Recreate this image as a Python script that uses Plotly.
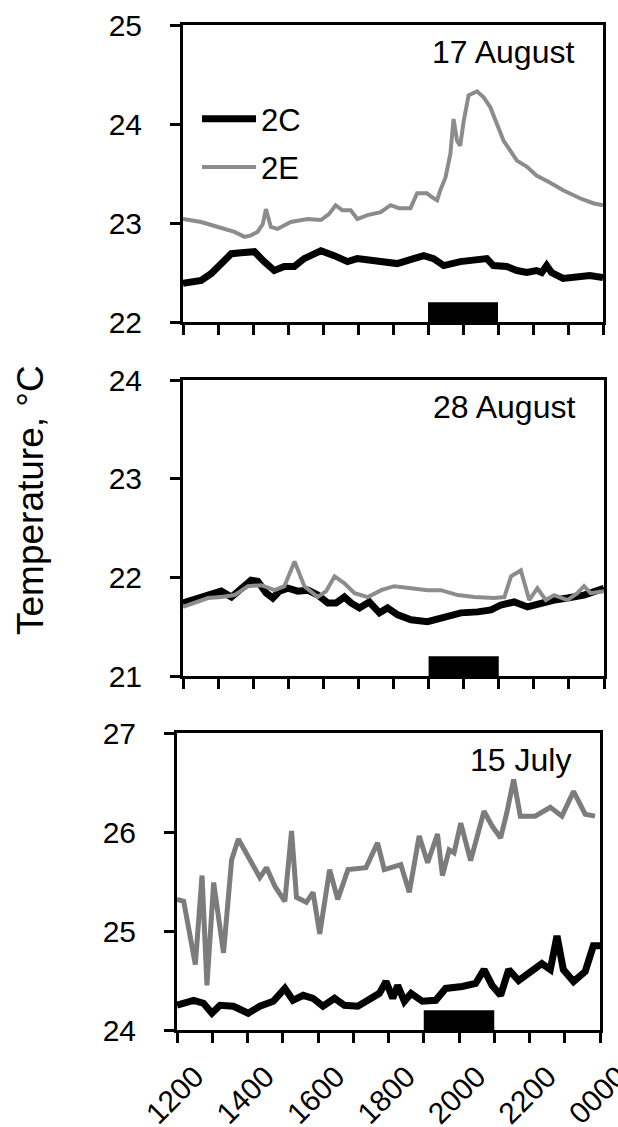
import plotly.graph_objects as go

# ---------------- data ----------------
# time in hours (12 = 1200, 24 = 0000)
tick_hours = list(range(12, 25))
tick_labels = ["1200", "", "1400", "", "1600", "", "1800", "", "2000", "", "2200", "", "0000"]

night_start = 19.0
night_end = 21.0
night_bar_height = 0.2

panel_dates = ["17 August", "28 August", "15 July"]
panel_ranges = [[22, 25], [21, 24], [24, 27]]
panel_ytick_values = [[22, 23, 24, 25], [21, 22, 23, 24], [24, 25, 26, 27]]

# 17 August
aug17_2C_time = [12.00, 12.52, 12.81, 13.09, 13.38, 13.66, 14.04, 14.32, 14.61, 14.89, 15.18, 15.46,
                 15.94, 16.32, 16.70, 16.98, 17.55, 18.12, 18.59, 18.88, 19.16, 19.45, 19.92, 20.40,
                 20.68, 20.87, 21.25, 21.54, 21.82, 22.10, 22.25, 22.39, 22.53, 22.86, 23.24, 23.62, 24.00]
aug17_2C_temp = [22.39, 22.42, 22.49, 22.59, 22.69, 22.70, 22.71, 22.61, 22.52, 22.56, 22.56, 22.64,
                 22.72, 22.67, 22.61, 22.64, 22.62, 22.59, 22.64, 22.67, 22.64, 22.57, 22.61, 22.64,
                 22.64, 22.57, 22.56, 22.52, 22.50, 22.52, 22.50, 22.57, 22.50, 22.44, 22.46, 22.47, 22.45]
aug17_2E_time = [12.00, 12.52, 13.00, 13.47, 13.76, 13.94, 14.13, 14.28, 14.37, 14.51, 14.70, 15.08,
                 15.56, 15.94, 16.17, 16.36, 16.55, 16.79, 16.98, 17.27, 17.65, 17.93, 18.17, 18.50,
                 18.69, 18.97, 19.12, 19.26, 19.35, 19.50, 19.64, 19.73, 19.83, 19.92, 20.02, 20.16,
                 20.40, 20.59, 20.78, 20.97, 21.16, 21.35, 21.54, 21.82, 22.10, 22.48, 22.86, 23.34,
                 23.72, 24.00]
aug17_2E_temp = [23.04, 23.01, 22.96, 22.91, 22.86, 22.875, 22.91, 22.99, 23.14, 22.96, 22.94, 23.01,
                 23.04, 23.03, 23.09, 23.18, 23.13, 23.13, 23.04, 23.08, 23.11, 23.18, 23.15, 23.15,
                 23.30, 23.30, 23.26, 23.23, 23.33, 23.46, 23.70, 24.05, 23.83, 23.78, 24.03, 24.29,
                 24.33, 24.27, 24.17, 24.00, 23.83, 23.73, 23.63, 23.57, 23.48, 23.41, 23.33, 23.25,
                 23.20, 23.18]

# 28 August
aug28_2C_time = [12.00, 12.24, 12.52, 12.81, 13.09, 13.38, 13.66, 13.94, 14.13, 14.37, 14.56, 14.75,
                 14.99, 15.27, 15.56, 15.84, 16.13, 16.36, 16.60, 16.79, 17.03, 17.31, 17.60, 17.83,
                 18.12, 18.50, 18.97, 19.45, 19.92, 20.40, 20.78, 21.06, 21.44, 21.82, 22.20, 22.58,
                 22.96, 23.43, 24.00]
aug28_2C_temp = [21.74, 21.77, 21.80, 21.84, 21.86, 21.80, 21.89, 21.97, 21.96, 21.84, 21.79, 21.86,
                 21.89, 21.86, 21.87, 21.82, 21.74, 21.74, 21.80, 21.74, 21.69, 21.75, 21.64, 21.69,
                 21.62, 21.57, 21.55, 21.60, 21.64, 21.65, 21.67, 21.72, 21.75, 21.70, 21.74, 21.77,
                 21.79, 21.82, 21.89]
aug28_2E_time = [12.00, 12.33, 12.71, 13.09, 13.47, 13.85, 14.23, 14.61, 14.89, 15.18, 15.46, 15.84,
                 16.08, 16.32, 16.60, 16.89, 17.27, 17.65, 18.02, 18.50, 18.97, 19.35, 19.83, 20.30,
                 20.87, 21.16, 21.35, 21.63, 21.87, 22.10, 22.34, 22.58, 22.96, 23.24, 23.43, 23.62, 24.00]
aug28_2E_temp = [21.70, 21.74, 21.79, 21.80, 21.82, 21.91, 21.92, 21.87, 21.91, 22.16, 21.91, 21.80,
                 21.86, 22.01, 21.94, 21.84, 21.80, 21.87, 21.91, 21.89, 21.87, 21.87, 21.82, 21.80,
                 21.79, 21.80, 22.01, 22.07, 21.77, 21.89, 21.77, 21.82, 21.77, 21.84, 21.91, 21.84, 21.86]

# 15 July
jul15_2C_time = [12.00, 12.47, 12.75, 12.99, 13.22, 13.60, 14.02, 14.35, 14.73, 15.06, 15.29, 15.58,
                 15.86, 16.14, 16.47, 16.75, 17.13, 17.46, 17.74, 17.93, 18.12, 18.26, 18.45, 18.64,
                 18.96, 19.34, 19.62, 20.09, 20.47, 20.71, 20.94, 21.18, 21.41, 21.69, 21.98, 22.35,
                 22.59, 22.78, 22.96, 23.25, 23.58, 23.81, 24.00]
jul15_2C_temp = [24.25, 24.30, 24.27, 24.17, 24.25, 24.24, 24.17, 24.24, 24.29, 24.42, 24.30, 24.35,
                 24.32, 24.24, 24.32, 24.25, 24.24, 24.32, 24.37, 24.49, 24.32, 24.45, 24.29, 24.37,
                 24.29, 24.30, 24.42, 24.44, 24.47, 24.61, 24.45, 24.35, 24.61, 24.50, 24.57, 24.67,
                 24.61, 24.95, 24.61, 24.49, 24.59, 24.85, 24.85]
jul15_2E_time = [12.00, 12.19, 12.52, 12.71, 12.85, 13.04, 13.32, 13.55, 13.74, 14.07, 14.35, 14.54,
                 14.78, 15.06, 15.25, 15.39, 15.67, 15.86, 16.05, 16.33, 16.56, 16.85, 17.36, 17.69,
                 17.88, 18.35, 18.59, 18.87, 19.11, 19.39, 19.53, 19.72, 19.86, 20.05, 20.33, 20.71,
                 20.94, 21.18, 21.36, 21.55, 21.74, 22.16, 22.59, 22.92, 23.25, 23.58, 23.86]
jul15_2E_temp = [25.32, 25.30, 24.66, 25.56, 24.45, 25.49, 24.78, 25.72, 25.93, 25.71, 25.54, 25.64,
                 25.45, 25.30, 26.01, 25.34, 25.29, 25.39, 24.97, 25.62, 25.32, 25.62, 25.64, 25.89,
                 25.62, 25.67, 25.39, 25.96, 25.69, 25.98, 25.56, 25.82, 25.79, 26.09, 25.71, 26.21,
                 26.06, 25.94, 26.20, 26.53, 26.16, 26.16, 26.25, 26.16, 26.41, 26.18, 26.16]

series_2C = [(aug17_2C_time, aug17_2C_temp), (aug28_2C_time, aug28_2C_temp), (jul15_2C_time, jul15_2C_temp)]
series_2E = [(aug17_2E_time, aug17_2E_temp), (aug28_2E_time, aug28_2E_temp), (jul15_2E_time, jul15_2E_temp)]

# ---------------- figure ----------------
W, H = 618, 1127
FONT = "Liberation Sans, Arial, Helvetica, sans-serif"
GRAY = "#8c8c8c"
GRAY_DARK = "#7c7c7c"

# pixel boxes of panels: (left, right, top, bottom)
boxes = [(183, 603, 25, 322), (183, 604, 380, 676), (177, 600, 733, 1030)]

fig = go.Figure()

for i in range(3):
    ax = "" if i == 0 else str(i + 1)
    t2e, v2e = series_2E[i]
    t2c, v2c = series_2C[i]
    fig.add_trace(go.Scatter(x=t2c, y=v2c, mode="lines", name="2C",
                             line=dict(color="black", width=7),
                             xaxis="x" + ax, yaxis="y" + ax,
                             legendgroup="2C", showlegend=(i == 0)))
    fig.add_trace(go.Scatter(x=t2e, y=v2e, mode="lines", name="2E",
                             line=dict(color=GRAY if i < 2 else GRAY_DARK, width=4 if i < 2 else 5),
                             xaxis="x" + ax, yaxis="y" + ax,
                             legendgroup="2E", showlegend=(i == 0)))

layout = dict(
    width=W, height=H,
    margin=dict(l=0, r=0, t=0, b=0, autoexpand=False),
    paper_bgcolor="white", plot_bgcolor="white",
    font=dict(family=FONT, color="black", size=30),
    legend=dict(x=197 / W, y=1 - 92 / H, xanchor="left", yanchor="top",
                bgcolor="rgba(0,0,0,0)", borderwidth=0,
                font=dict(size=31, family=FONT), traceorder="grouped",
                tracegroupgap=5, itemwidth=54),
    shapes=[], annotations=[],
)

for i, (l, r, t, b) in enumerate(boxes):
    ax = "" if i == 0 else str(i + 1)
    xkey = "xaxis" + ax
    ykey = "yaxis" + ax
    layout[xkey] = dict(
        domain=[l / W, r / W], range=[12, 24], anchor="y" + ax,
        showline=True, linecolor="black", linewidth=3, mirror=True,
        ticks="outside", ticklen=10, tickwidth=3, tickcolor="black",
        tickvals=tick_hours, ticktext=tick_labels if i == 2 else [""] * len(tick_hours),
        showticklabels=(i == 2), tickangle=-45, automargin=False,
        ticklabelstandoff=4, ticklabelshift=18, ticklabeloverflow="allow",
        tickfont=dict(size=30, family=FONT),
        showgrid=False, zeroline=False, fixedrange=True,
    )
    layout[ykey] = dict(
        domain=[1 - b / H, 1 - t / H], range=panel_ranges[i], anchor="x" + ax,
        showline=True, linecolor="black", linewidth=3, mirror=True,
        ticks="outside", ticklen=10, tickwidth=3, tickcolor="black",
        tickvals=panel_ytick_values[i], ticktext=[str(v) for v in panel_ytick_values[i]],
        tickfont=dict(size=30, family=FONT), ticklabelstandoff=22, automargin=False,
        showgrid=False, zeroline=False, fixedrange=True,
    )
    layout["shapes"].append(dict(
        type="rect", xref="x" + ax, yref="y" + ax,
        x0=night_start, x1=night_end,
        y0=panel_ranges[i][0], y1=panel_ranges[i][0] + night_bar_height,
        fillcolor="black", line=dict(width=0), layer="above"))
    layout["annotations"].append(dict(
        text=panel_dates[i], xref="x" + ax + " domain", yref="y" + ax + " domain",
        x=0.935, y=0.91, xanchor="right", yanchor="middle", showarrow=False,
        font=dict(size=32, family=FONT, color="black")))

layout["annotations"].append(dict(
    text="Temperature, \u00b0C", xref="paper", yref="paper",
    x=30 / W, y=1 - 500 / H, xanchor="center", yanchor="middle",
    textangle=-90, showarrow=False,
    font=dict(size=37, family=FONT, color="black")))

fig.update_layout(**layout)
fig.write_html("out.html")
